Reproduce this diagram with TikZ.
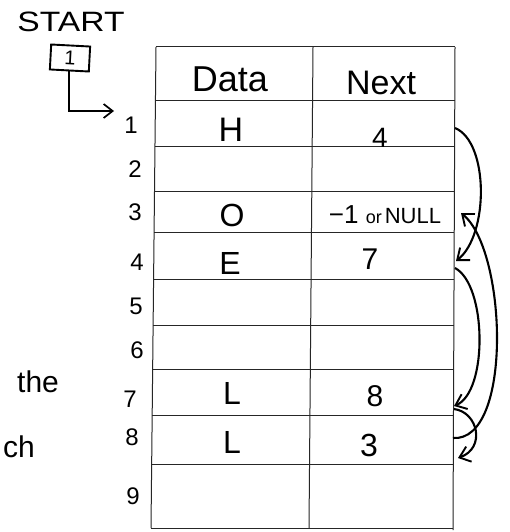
\documentclass[tikz,border=0pt]{standalone}
\usepackage{fontspec}
\setmainfont{Liberation Sans}
\usetikzlibrary{arrows.meta}
\begin{document}
\begin{tikzpicture}[x=1pt,y=-1pt,
  grid/.style={line width=1pt, draw=black!85},
  link/.style={line width=2.1pt, -{Straight Barb[length=10pt,width=16pt,line width=1.9pt]}},
  hand/.style={inner sep=0pt, font=\fontsize{#1}{#1}\selectfont},
  startbox/.style={draw, line width=1.9pt, minimum width=39pt, minimum height=25pt, inner sep=0pt, rotate=-3, font=\fontsize{20}{20}\selectfont}]
\useasboundingbox (0,0) rectangle (510,532);
\fill[white] (0,0) rectangle (510,532);

% table lines
\foreach \yy in {47,101,146,191,232,279,325,369,415,464,528}
  \draw[grid] ({156-5*(\yy-47)/481},\yy) -- ({455-2*(\yy-47)/481},\yy);
\draw[grid] (156,47) -- (151,528);
\draw[grid] (313,47) -- (309,528);
\draw[grid] (455,47) -- (453,530);

% header
\node[hand=36] (hdata) at (230,79) {Data};
\node[hand=34] (hnext) at (381,83) {Next};

% row labels
\node[hand=24] (l1) at (131,125) {1};
\node[hand=24] (l2) at (135,169) {2};
\node[hand=24] (l3) at (135,212) {3};
\node[hand=24] (l4) at (137,262) {4};
\node[hand=24] (l5) at (136,306) {5};
\node[hand=24] (l6) at (137,350) {6};
\node[hand=24] (l7) at (130,399) {7};
\node[hand=24] (l8) at (132,437) {8};
\node[hand=24] (l9) at (133,496) {9};

% data column
\node[hand=34] (d1) at (231,130) {H};
\node[hand=32] (d3) at (232,215) {O};
\node[hand=32] (d4) at (230,263) {E};
\node[hand=32] (d7) at (232,393) {L};
\node[hand=32] (d8) at (232,442) {L};

% next column
\node[hand=28] (n1) at (380,138) {4};
\node[hand=22] (n3) at (385,215) {\fontsize{26}{26}\selectfont −1 \fontsize{18}{18}\selectfont or\,\fontsize{22}{22}\selectfont NULL};
\node[hand=30] (n4) at (370,259) {7};
\node[hand=30] (n7) at (375,396) {8};
\node[hand=32] (n8) at (369,445) {3};

% start pointer
\node[hand=28] (start) at (71,22) {\scalebox{1.2}[1]{START}};
\node[startbox] (sb) at (70,58) {1};
\coordinate (ae) at (114,111);
\draw[line width=1.9pt, -{Straight Barb[length=9pt,width=14pt,line width=1.7pt]}] (sb.south) |- (ae);

% link arrows
\coordinate (o1) at (455,128);
\coordinate (i4) at (456,261);
\coordinate (o4) at (455,268);
\coordinate (i7) at (454,406);
\coordinate (o7) at (454,409);
\coordinate (i8) at (458,458);
\coordinate (o8) at (453,438);
\coordinate (i3) at (461,213);
\draw[link] (o1) .. controls (489,142) and (489,235) .. (i4);
\draw[link] (o4) .. controls (487,285) and (488,392) .. (i7);
\draw[link] (o7) .. controls (478,412) and (486,448) .. (i8);
\draw[link] (o8) .. controls (513,442) and (507,250) .. (i3);

% fragments of text at the left edge
\node[hand=30, anchor=base west] (the) at (17,392) {the};
\node[hand=30, anchor=base east] (ch) at (35,457) {ch};
\end{tikzpicture}
\end{document}
